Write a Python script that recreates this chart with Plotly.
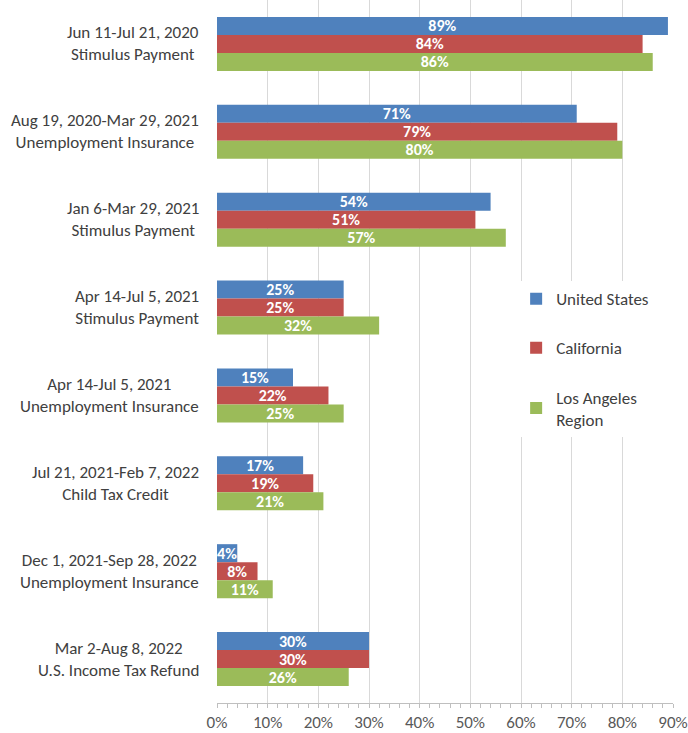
import plotly.graph_objects as go

categories = [
    "Jun 11-Jul 21, 2020<br>Stimulus Payment",
    "Aug 19, 2020-Mar 29, 2021<br>Unemployment Insurance",
    "Jan 6-Mar 29, 2021<br>Stimulus Payment",
    "Apr 14-Jul 5, 2021<br>Stimulus Payment",
    "Apr 14-Jul 5, 2021<br>Unemployment Insurance",
    "Jul 21, 2021-Feb 7, 2022<br>Child Tax Credit",
    "Dec 1, 2021-Sep 28, 2022<br>Unemployment Insurance",
    "Mar 2-Aug 8, 2022<br>U.S. Income Tax Refund",
]
united_states = [89, 71, 54, 25, 15, 17, 4, 30]
california = [84, 79, 51, 25, 22, 19, 8, 30]
los_angeles = [86, 80, 57, 32, 25, 21, 11, 26]
series_names = ["United States", "California", "Los Angeles<br>Region"]
colors = ["#4F81BD", "#C0504D", "#9BBB59"]
x_ticks = [0, 10, 20, 30, 40, 50, 60, 70, 80, 90]
x_tick_labels = [f"{v}%" for v in x_ticks]

FONT = "Carlito, Calibri, Lato, sans-serif"

fig = go.Figure()
for name, vals, col in zip(series_names, [united_states, california, los_angeles], colors):
    fig.add_trace(go.Bar(
        y=categories, x=vals, name=name, orientation="h",
        marker=dict(color=col, line=dict(width=0)),
        text=[f"{v}%" for v in vals], textposition="inside",
        insidetextanchor="middle", constraintext="none",
        textfont=dict(color="white", size=16, family=FONT, weight="bold"),
        legendgroup=name, hoverinfo="skip",
    ))

for c in categories:
    fig.add_annotation(
        x=0, xref="paper", y=c, yref="y", text=c, showarrow=False,
        xanchor="right", align="center", xshift=-16,
        font=dict(size=17, color="#404040", family=FONT),
    )

fig.update_layout(
    width=688, height=733,
    margin=dict(l=217, r=15, t=0, b=30),
    barmode="group", bargap=0.385, bargroupgap=0,
    plot_bgcolor="white", paper_bgcolor="white",
    font=dict(family=FONT, color="#404040"),
    showlegend=True,
    legend=dict(
        x=0.656, y=0.6, xanchor="left", yanchor="top",
        bgcolor="white", tracegroupgap=24, itemclick=False,
        font=dict(size=17, color="#404040", family=FONT),
    ),
    xaxis=dict(
        range=[0, 90], tickvals=x_ticks, ticktext=x_tick_labels,
        showgrid=True, gridcolor="#D9D9D9", gridwidth=1,
        showline=True, linecolor="#BFBFBF", linewidth=1,
        ticks="outside", ticklen=4, tickcolor="#BFBFBF",
        minor=dict(dtick=2, ticks="outside", ticklen=4, tickcolor="#BFBFBF", showgrid=False),
        tickfont=dict(size=17, color="#595959", family=FONT),
        zeroline=False, fixedrange=True,
    ),
    xaxis2=dict(
        range=[0, 90], overlaying="x", anchor="y", side="bottom",
        showgrid=False, showline=False, showticklabels=False,
        tickvals=x_ticks, ticks="inside", ticklen=4, tickcolor="#BFBFBF",
        minor=dict(dtick=2, ticks="inside", ticklen=4, tickcolor="#BFBFBF", showgrid=False),
        zeroline=False,
    ),
    yaxis=dict(
        autorange="reversed", showticklabels=False, showgrid=False,
        showline=False, ticks="", fixedrange=True,
    ),
)

fig.write_html(
    "out.html",
    config={"displayModeBar": False},
    post_script="document.body.style.margin='0';document.body.style.overflow='hidden';",
)
